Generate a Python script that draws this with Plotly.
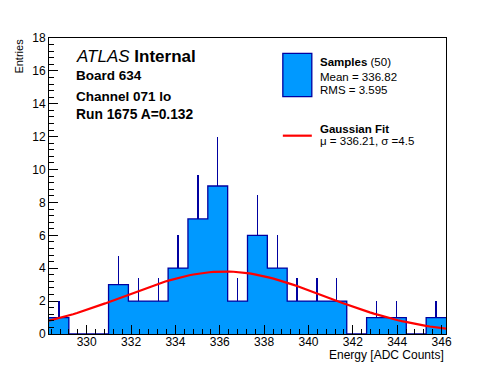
import numpy as np
import plotly.graph_objects as go

# ---- data ----
bin_lo = 328.3
bin_width = 0.895
counts = [1, 0, 0, 3, 2, 2, 4, 7, 9, 2, 6, 4, 2, 2, 2, 0, 1, 1, 0, 1]
fit_amp = 3.8
fit_mu = 336.21
fit_sigma = 4.5
x_range = [328.3, 346.2]
y_range = [0, 18]
x_ticks = [330, 332, 334, 336, 338, 340, 342, 344, 346]
y_ticks = [0, 2, 4, 6, 8, 10, 12, 14, 16, 18]

n = len(counts)
edges = [bin_lo + i * bin_width for i in range(n + 1)]
centers = [bin_lo + (i + 0.5) * bin_width for i in range(n)]
errs = [float(np.sqrt(c)) for c in counts]

FILL = "rgb(0,153,255)"
EDGE = "rgb(0,0,160)"
FONT = "Liberation Sans, Arial, Helvetica, sans-serif"

fig = go.Figure()
fig.add_trace(go.Bar(x=centers, y=counts, width=bin_width,
                     marker=dict(color=FILL, line=dict(width=0)),
                     error_y=dict(type="data", symmetric=False, array=errs,
                                  arrayminus=[0] * n, width=0, thickness=1.3,
                                  color=EDGE),
                     showlegend=False, hoverinfo="skip"))
fig.add_trace(go.Scatter(x=edges, y=counts + [counts[-1]], mode="lines",
                         line=dict(shape="hv", color=EDGE, width=1.3),
                         showlegend=False, hoverinfo="skip"))

gx = np.linspace(x_range[0], x_range[1], 100)
gy = fit_amp * np.exp(-0.5 * ((gx - fit_mu) / fit_sigma) ** 2)
fig.add_trace(go.Scatter(x=gx, y=gy, mode="lines",
                         line=dict(color="red", width=2.2),
                         showlegend=False, hoverinfo="skip"))

axis_common = dict(showline=True, linecolor="black", linewidth=1, mirror=True,
                   ticks="inside", ticklen=9, tickcolor="black", tickwidth=1,
                   showgrid=False, zeroline=False,
                   tickfont=dict(family=FONT, size=12, color="black"))
fig.update_xaxes(range=x_range, tickvals=x_ticks, ticklabelstandoff=-3, **axis_common,
                 minor=dict(dtick=0.4, tick0=330, ticks="inside", ticklen=5,
                            tickcolor="black", showgrid=False))
fig.update_yaxes(range=y_range, tickvals=y_ticks, **axis_common,
                 minor=dict(dtick=0.4, tick0=0, ticks="inside", ticklen=5,
                            tickcolor="black", showgrid=False))

ann = []
def txt(x, y, s, size, xanchor="left", yanchor="middle", angle=0):
    ann.append(dict(x=x, y=y, xref="paper", yref="paper", text=s, showarrow=False,
                    xanchor=xanchor, yanchor=yanchor, textangle=angle,
                    font=dict(family=FONT, size=size, color="black")))

txt(0.063, 0.936, "<i>ATLAS</i> <b>Internal</b>", 17)
txt(0.063, 0.872, "<b>Board 634</b>", 13.5)
txt(0.063, 0.804, "<b>Channel 071 lo</b>", 13.5)
txt(0.063, 0.740, "<b>Run 1675 A=0.132</b>", 13.8)

txt(0.677, 0.920, "<b>Samples</b> (50)", 11.5)
txt(0.677, 0.869, "Mean = 336.82", 11.5)
txt(0.677, 0.824, "RMS = 3.595", 11.5)
txt(0.677, 0.692, "<b>Gaussian Fit</b>", 11.5)
txt(0.677, 0.652, "μ = 336.21, σ =4.5", 11.5)

txt(1.0, -0.071, "Energy [ADC Counts]", 12, xanchor="right")
txt(-0.076, 0.94, "Entries", 11, xanchor="center", yanchor="middle", angle=-90)

# page body has an 8px margin, so the figure is shrunk and shifted accordingly
fig.update_layout(
    width=488, height=364,
    margin=dict(l=41, r=50, t=30, b=38),
    plot_bgcolor="white", paper_bgcolor="white",
    bargap=0, showlegend=False,
    annotations=ann,
    shapes=[
        dict(type="rect", xref="paper", yref="paper", x0=0.589, x1=0.662,
             y0=0.802, y1=0.948, fillcolor=FILL, line=dict(color=EDGE, width=1.3)),
        dict(type="line", xref="paper", yref="paper", x0=0.589, x1=0.662,
             y0=0.670, y1=0.670, line=dict(color="red", width=2.2)),
    ],
)
fig.write_html("out.html")
